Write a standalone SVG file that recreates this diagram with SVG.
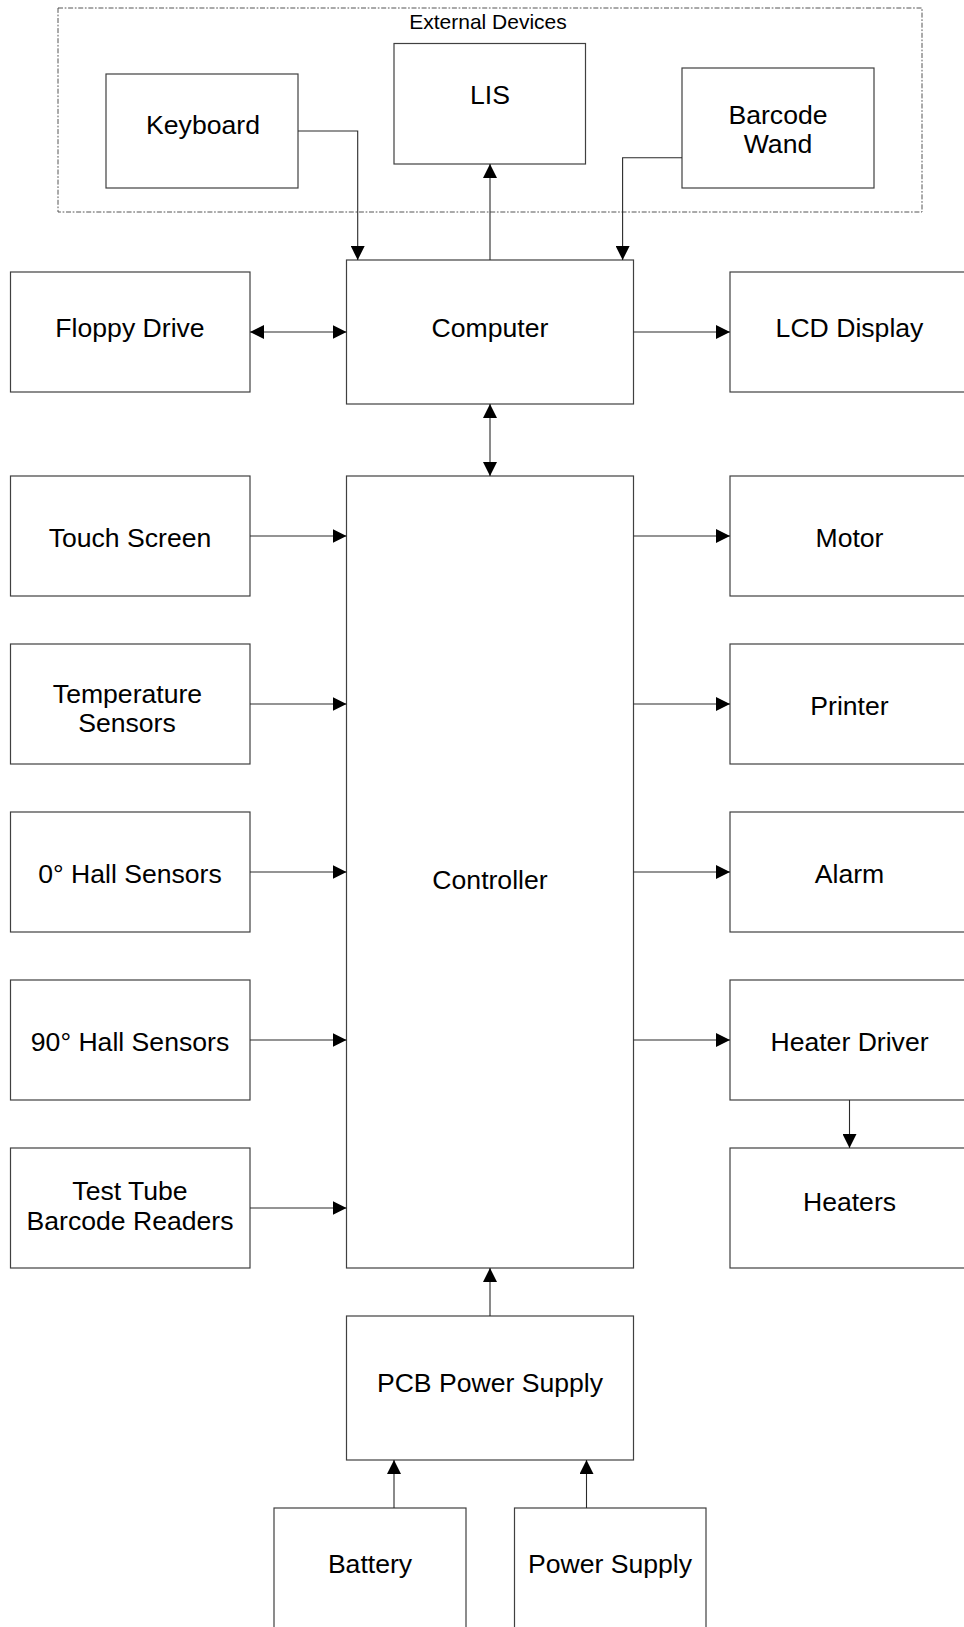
<svg xmlns="http://www.w3.org/2000/svg" width="964" height="1627" viewBox="0 0 964 1627">
<style>
.box{fill:#fff;stroke:#404040;stroke-width:1.2}
.t{font-family:"Liberation Sans",Arial,sans-serif;font-size:26.6px;fill:#000;text-anchor:middle}
.s{font-family:"Liberation Sans",Arial,sans-serif;font-size:21px;fill:#000;text-anchor:middle}
.c{fill:none;stroke:#2a2a2a;stroke-width:1.1}
.grp{fill:none;stroke:#555;stroke-width:1;stroke-dasharray:5 1.7 1.7 1.7}
</style>
<defs>
<marker id="ah" markerUnits="userSpaceOnUse" markerWidth="14" markerHeight="14" refX="14" refY="7" orient="auto-start-reverse" viewBox="0 0 14 14">
<path d="M0,0 L14,7 L0,14 z" fill="#000"/>
</marker>
</defs>
<g id="external-devices">
<rect class="grp" x="58" y="8" width="864" height="204"/>
<text class="s" x="488" y="29">External Devices</text>
</g>
<g id="keyboard"><rect class="box" x="106" y="74" width="192" height="114"/><text class="t" x="203" y="134">Keyboard</text></g>
<g id="lis"><rect class="box" x="394" y="43.5" width="191.5" height="120.5"/><text class="t" x="490" y="104">LIS</text></g>
<g id="barcode-wand"><rect class="box" x="682" y="68" width="192" height="120"/><text class="t" x="778" y="124">Barcode</text><text class="t" x="778" y="153">Wand</text></g>
<g id="computer"><rect class="box" x="346.5" y="260" width="287" height="144"/><text class="t" x="490" y="337">Computer</text></g>
<g id="floppy-drive"><rect class="box" x="10.5" y="272" width="239.5" height="120"/><text class="t" x="130" y="337">Floppy Drive</text></g>
<g id="lcd-display"><rect class="box" x="730" y="272" width="240" height="120"/><text class="t" x="849.5" y="337">LCD Display</text></g>
<g id="controller"><rect class="box" x="346.5" y="476" width="287" height="792"/><text class="t" x="490" y="889">Controller</text></g>
<g id="touch-screen"><rect class="box" x="10.5" y="476" width="239.5" height="120"/><text class="t" x="130" y="547">Touch Screen</text></g>
<g id="temperature-sensors"><rect class="box" x="10.5" y="644" width="239.5" height="120"/><text class="t" x="127.5" y="703">Temperature</text><text class="t" x="127" y="732">Sensors</text></g>
<g id="hall-0"><rect class="box" x="10.5" y="812" width="239.5" height="120"/><text class="t" x="130" y="883">0° Hall Sensors</text></g>
<g id="hall-90"><rect class="box" x="10.5" y="980" width="239.5" height="120"/><text class="t" x="130" y="1051">90° Hall Sensors</text></g>
<g id="test-tube-barcode-readers"><rect class="box" x="10.5" y="1148" width="239.5" height="120"/><text class="t" x="130" y="1200">Test Tube</text><text class="t" x="130" y="1230">Barcode Readers</text></g>
<g id="motor"><rect class="box" x="730" y="476" width="240" height="120"/><text class="t" x="849.5" y="547">Motor</text></g>
<g id="printer"><rect class="box" x="730" y="644" width="240" height="120"/><text class="t" x="849.5" y="715">Printer</text></g>
<g id="alarm"><rect class="box" x="730" y="812" width="240" height="120"/><text class="t" x="849.5" y="883">Alarm</text></g>
<g id="heater-driver"><rect class="box" x="730" y="980" width="240" height="120"/><text class="t" x="849.5" y="1051">Heater Driver</text></g>
<g id="heaters"><rect class="box" x="730" y="1148" width="240" height="120"/><text class="t" x="849.5" y="1211">Heaters</text></g>
<g id="pcb-power-supply"><rect class="box" x="346.5" y="1316" width="287" height="144"/><text class="t" x="490" y="1392">PCB Power Supply</text></g>
<g id="battery"><rect class="box" x="274" y="1508" width="192" height="130"/><text class="t" x="370" y="1573">Battery</text></g>
<g id="power-supply"><rect class="box" x="514.5" y="1508" width="191.5" height="130"/><text class="t" x="610" y="1573">Power Supply</text></g>
<g id="connectors">
<path class="c" d="M298,131 H357.7 V260" marker-end="url(#ah)"/>
<path class="c" d="M682,157.7 H622.6 V260" marker-end="url(#ah)"/>
<path class="c" d="M490,260 V164" marker-end="url(#ah)"/>
<path class="c" d="M250,332 H346.5" marker-start="url(#ah)" marker-end="url(#ah)"/>
<path class="c" d="M633.5,332 H730" marker-end="url(#ah)"/>
<path class="c" d="M490,404 V476" marker-start="url(#ah)" marker-end="url(#ah)"/>
<path class="c" d="M250,536 H346.5" marker-end="url(#ah)"/>
<path class="c" d="M250,704 H346.5" marker-end="url(#ah)"/>
<path class="c" d="M250,872 H346.5" marker-end="url(#ah)"/>
<path class="c" d="M250,1040 H346.5" marker-end="url(#ah)"/>
<path class="c" d="M250,1208 H346.5" marker-end="url(#ah)"/>
<path class="c" d="M633.5,536 H730" marker-end="url(#ah)"/>
<path class="c" d="M633.5,704 H730" marker-end="url(#ah)"/>
<path class="c" d="M633.5,872 H730" marker-end="url(#ah)"/>
<path class="c" d="M633.5,1040 H730" marker-end="url(#ah)"/>
<path class="c" d="M849.5,1100 V1148" marker-end="url(#ah)"/>
<path class="c" d="M490,1316 V1268" marker-end="url(#ah)"/>
<path class="c" d="M394,1508 V1460" marker-end="url(#ah)"/>
<path class="c" d="M586.5,1508 V1460" marker-end="url(#ah)"/>
</g>
</svg>
